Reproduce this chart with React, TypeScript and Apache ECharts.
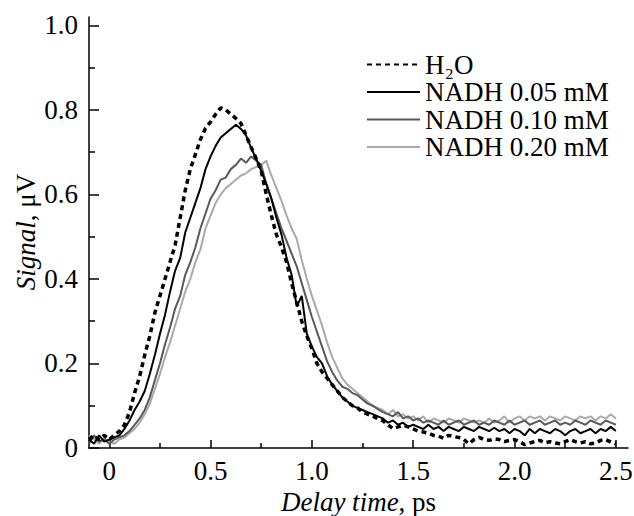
import React, { useEffect, useRef } from "react";
import * as echarts from "echarts";

const delay = [
  -0.1, -0.075, -0.05, -0.025, 0.0, 0.025, 0.05, 0.075, 0.1, 0.125,
  0.15, 0.175, 0.2, 0.225, 0.25, 0.275, 0.3, 0.325, 0.35, 0.375,
  0.4, 0.425, 0.45, 0.475, 0.5, 0.525, 0.55, 0.575, 0.6, 0.625,
  0.65, 0.675, 0.7, 0.725, 0.75, 0.775, 0.8, 0.825, 0.85, 0.875,
  0.9, 0.925, 0.95, 0.975, 1.0, 1.025, 1.05, 1.075, 1.1, 1.125,
  1.15, 1.175, 1.2, 1.225, 1.25, 1.275, 1.3, 1.325, 1.35, 1.375,
  1.4, 1.425, 1.45, 1.475, 1.5, 1.525, 1.55, 1.575, 1.6, 1.625,
  1.65, 1.675, 1.7, 1.725, 1.75, 1.775, 1.8, 1.825, 1.85, 1.875,
  1.9, 1.925, 1.95, 1.975, 2.0, 2.025, 2.05, 2.075, 2.1, 2.125,
  2.15, 2.175, 2.2, 2.225, 2.25, 2.275, 2.3, 2.325, 2.35, 2.375,
  2.4, 2.425, 2.45, 2.475, 2.5,
];

const water = [
  0.02, 0.03, 0.02, 0.03, 0.02, 0.03, 0.04, 0.055, 0.085, 0.13,
  0.17, 0.22, 0.265, 0.32, 0.36, 0.4, 0.44, 0.48, 0.545, 0.61,
  0.66, 0.695, 0.73, 0.757, 0.772, 0.79, 0.805, 0.8, 0.79, 0.78,
  0.768, 0.74, 0.712, 0.685, 0.655, 0.6, 0.55, 0.505, 0.475, 0.44,
  0.39, 0.345, 0.3, 0.265, 0.235, 0.2, 0.18, 0.165, 0.15, 0.135,
  0.12, 0.11, 0.1, 0.095, 0.085, 0.08, 0.075, 0.07, 0.065, 0.055,
  0.046, 0.05, 0.054, 0.05, 0.045, 0.04, 0.038, 0.035, 0.03, 0.028,
  0.023, 0.03, 0.027, 0.025, 0.02, 0.01, 0.02, 0.025, 0.02, 0.018,
  0.022, 0.02, 0.015, 0.018, 0.02, 0.015, 0.008, 0.012, 0.015, 0.018,
  0.012, 0.015, 0.012, 0.01, 0.015, 0.02, 0.015, 0.012, 0.015, 0.01,
  0.012, 0.018, 0.02, 0.014, 0.01,
];

const nadh005 = [
  0.02, 0.01, 0.03, 0.015, 0.02, 0.025, 0.03, 0.045, 0.065, 0.09,
  0.11, 0.135, 0.175, 0.22, 0.27, 0.315, 0.37, 0.42, 0.45, 0.51,
  0.545, 0.58, 0.615, 0.66, 0.69, 0.715, 0.735, 0.745, 0.755, 0.765,
  0.755, 0.74, 0.71, 0.685, 0.655, 0.625, 0.59, 0.545, 0.505, 0.45,
  0.41, 0.335, 0.36, 0.27, 0.24, 0.215, 0.2, 0.17, 0.15, 0.135,
  0.12, 0.11, 0.1, 0.095, 0.09, 0.085, 0.08, 0.075, 0.07, 0.06,
  0.065, 0.055, 0.06, 0.05, 0.055, 0.05, 0.045, 0.055, 0.045, 0.05,
  0.04, 0.05, 0.045, 0.04, 0.05, 0.045, 0.04, 0.05, 0.045, 0.04,
  0.048, 0.04, 0.045, 0.035, 0.045, 0.04, 0.03, 0.045, 0.035, 0.045,
  0.04, 0.035, 0.045, 0.04, 0.03, 0.04, 0.045, 0.035, 0.04, 0.045,
  0.035, 0.045, 0.04, 0.05, 0.04,
];

const nadh010 = [
  0.01, 0.03, 0.015, 0.02, 0.01, 0.02, 0.025, 0.03, 0.04, 0.055,
  0.07, 0.09, 0.12, 0.16, 0.2, 0.245, 0.285, 0.33, 0.36, 0.41,
  0.44, 0.475, 0.52, 0.555, 0.59, 0.61, 0.635, 0.64, 0.66, 0.67,
  0.685, 0.675, 0.69, 0.68, 0.67, 0.625, 0.59, 0.555, 0.52, 0.49,
  0.46, 0.43, 0.39, 0.35, 0.31, 0.275, 0.24, 0.205, 0.18, 0.16,
  0.145, 0.14, 0.13, 0.125, 0.115, 0.105, 0.1, 0.092, 0.085, 0.08,
  0.075, 0.085, 0.07, 0.075, 0.065, 0.07, 0.06, 0.065, 0.06, 0.055,
  0.065, 0.055, 0.06, 0.065, 0.055, 0.06, 0.065, 0.055, 0.06, 0.055,
  0.065, 0.06, 0.055, 0.065, 0.055, 0.06, 0.065, 0.055, 0.06, 0.065,
  0.055, 0.06, 0.065, 0.055, 0.06, 0.055, 0.065, 0.06, 0.055, 0.065,
  0.06, 0.055, 0.065, 0.06, 0.055,
];

const nadh020 = [
  0.03, 0.02, 0.01, 0.025, 0.015, 0.01, 0.02, 0.025, 0.035, 0.045,
  0.06, 0.08, 0.105, 0.14, 0.175, 0.215, 0.25, 0.29, 0.33, 0.37,
  0.4, 0.44, 0.47, 0.52, 0.55, 0.58, 0.6, 0.615, 0.625, 0.635,
  0.645, 0.65, 0.66, 0.665, 0.67, 0.68, 0.645, 0.615, 0.585, 0.55,
  0.52, 0.495, 0.445, 0.4, 0.36, 0.325, 0.29, 0.25, 0.215, 0.19,
  0.165, 0.15, 0.14, 0.13, 0.12, 0.11, 0.1, 0.095, 0.09, 0.08,
  0.09, 0.075, 0.08, 0.07, 0.075, 0.065, 0.075, 0.06, 0.07, 0.065,
  0.06, 0.07, 0.065, 0.06, 0.07, 0.065, 0.06, 0.065, 0.06, 0.07,
  0.06, 0.065, 0.075, 0.06, 0.07, 0.075, 0.065, 0.075, 0.07, 0.075,
  0.065, 0.075, 0.07, 0.065, 0.075, 0.07, 0.065, 0.075, 0.07, 0.075,
  0.065, 0.075, 0.07, 0.08, 0.07,
];

const xMajorTicks = [0, 0.5, 1.0, 1.5, 2.0, 2.5];
const xMinorTicks = [0.25, 0.75, 1.25, 1.75, 2.25];
const yMajorTicks = [0, 0.2, 0.4, 0.6, 0.8, 1.0];
const yMinorTicks = [0.1, 0.3, 0.5, 0.7, 0.9];

const seriesNames = ["H2O", "NADH 0.05 mM", "NADH 0.10 mM", "NADH 0.20 mM"];

const FONT = "Liberation Serif";
const FS = 27;

function pairs(vals: number[]) {
  return delay.map((t, i) => [t, vals[i]]);
}

const fmt = (v: number) => (v === 0 ? "0" : v.toFixed(1));

export default function App() {
  const ref = useRef<HTMLDivElement>(null);
  useEffect(() => {
    if (!ref.current) return;
    const chart = echarts.init(ref.current, null, { renderer: "svg" });
    const axisLineStyle = { color: "#000", width: 1.5 };
    chart.setOption({
      animation: false,
      backgroundColor: "#fff",
      textStyle: { fontFamily: FONT },
      grid: { left: 89, right: 6, top: 17, bottom: 68, outerBoundsMode: "none" },
      legend: {
        orient: "vertical",
        left: 361,
        top: 46,
        itemWidth: 53,
        itemHeight: 14,
        itemGap: 0.5,
        data: seriesNames,
        itemStyle: { opacity: 0 },
        formatter: (name: string) => (name === "H2O" ? "H\u2082O" : name),
        textStyle: {
          color: "#000",
          fontFamily: FONT,
          fontSize: FS,
          lineHeight: 27,
        },
      },
      xAxis: [
        {
          type: "value",
          min: -0.1,
          max: 2.56,
          position: "bottom",
          axisLine: { show: true, onZero: false, lineStyle: axisLineStyle },
          axisTick: { show: true, inside: true, length: 8, customValues: xMajorTicks, lineStyle: axisLineStyle },
          axisLabel: {
            customValues: xMajorTicks,
            formatter: fmt,
            color: "#000",
            fontFamily: FONT,
            fontSize: FS,
            margin: 9,
          },
          splitLine: { show: false },
          name: "{i|Delay time}, ps",
          nameLocation: "middle",
          nameGap: 34,
          nameTextStyle: {
            color: "#000",
            fontFamily: FONT,
            fontSize: FS,
            rich: { i: { fontStyle: "italic", fontFamily: FONT, fontSize: FS, color: "#000" } },
          },
        },
        {
          type: "value",
          min: -0.1,
          max: 2.56,
          position: "bottom",
          axisLine: { show: false, onZero: false },
          axisTick: { show: true, inside: true, length: 5, customValues: xMinorTicks, lineStyle: axisLineStyle },
          axisLabel: { show: false },
          splitLine: { show: false },
        },
      ],
      yAxis: [
        {
          type: "value",
          min: 0,
          max: 1.02,
          position: "left",
          axisLine: { show: true, onZero: false, lineStyle: axisLineStyle },
          axisTick: { show: true, inside: true, length: 10, customValues: yMajorTicks, lineStyle: axisLineStyle },
          axisLabel: {
            customValues: yMajorTicks,
            formatter: fmt,
            color: "#000",
            fontFamily: FONT,
            fontSize: FS,
            margin: 11,
          },
          splitLine: { show: false },
        },
        {
          type: "value",
          min: 0,
          max: 1.02,
          position: "left",
          axisLine: { show: false, onZero: false },
          axisTick: { show: true, inside: true, length: 6, customValues: yMinorTicks, lineStyle: axisLineStyle },
          axisLabel: { show: false },
          splitLine: { show: false },
        },
      ],
      graphic: [
        {
          type: "text",
          x: 26,
          y: 232,
          rotation: Math.PI / 2,
          style: {
            text: "{i|Signal}{n|, μV}",
            fill: "#000",
            fontFamily: FONT,
            fontSize: FS,
            align: "center",
            verticalAlign: "middle",
            rich: {
              i: { fontStyle: "italic", fontFamily: FONT, fontSize: FS, fill: "#000" },
              n: { fontFamily: FONT, fontSize: FS, fill: "#000" },
            },
          },
        },
      ],
      series: [
        {
          name: seriesNames[3],
          type: "line",
          data: pairs(nadh020),
          symbol: "none",
          lineStyle: { color: "#aaaaaa", width: 2 },
          itemStyle: { color: "#aaaaaa" },
        },
        {
          name: seriesNames[2],
          type: "line",
          data: pairs(nadh010),
          symbol: "none",
          lineStyle: { color: "#595959", width: 2 },
          itemStyle: { color: "#595959" },
        },
        {
          name: seriesNames[1],
          type: "line",
          data: pairs(nadh005),
          symbol: "none",
          lineStyle: { color: "#000", width: 2 },
          itemStyle: { color: "#000" },
        },
        {
          name: seriesNames[0],
          type: "line",
          data: pairs(water),
          symbol: "none",
          lineStyle: { color: "#000", width: 3.5, type: [5, 4] },
          itemStyle: { color: "#000" },
        },
      ],
    });
    return () => chart.dispose();
  }, []);
  return <div ref={ref} style={{ width: 634, height: 516, position: "absolute", left: 0, top: 0 }} />;
}
